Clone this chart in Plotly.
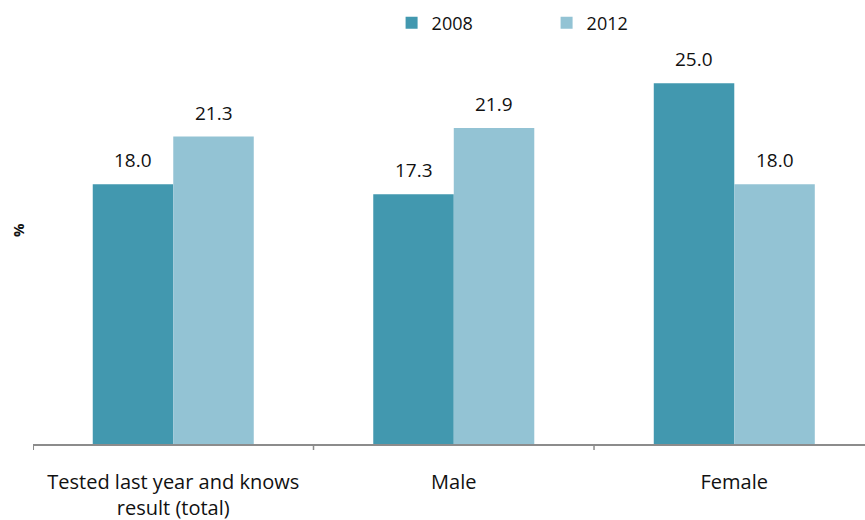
import plotly.graph_objects as go

# Share of people tested in the last year who know their result
categories = ["Tested last year and knows<br>result (total)", "Male", "Female"]
years = ["2008", "2012"]
values_2008 = [18.0, 17.3, 25.0]
values_2012 = [21.3, 21.9, 18.0]
colors = {"2008": "#4298AF", "2012": "#93C3D4"}

FONT = "'Open Sans', 'Noto Sans', sans-serif"
BAR_W = 0.287

fig = go.Figure()
series = {"2008": values_2008, "2012": values_2012}
for yr in years:
    fig.add_trace(go.Bar(
        name=yr,
        x=list(range(len(categories))),
        y=series[yr],
        marker=dict(color=colors[yr], line=dict(width=0)),
        width=BAR_W,
        offsetgroup=yr,
    ))

# value labels above each bar
for k, yr in enumerate(years):
    offset = (k - 0.5) * BAR_W
    for i, v in enumerate(series[yr]):
        fig.add_annotation(
            x=i + offset, y=v, xref="x", yref="y",
            text=f"{v:.1f}", showarrow=False,
            yanchor="bottom", yshift=9,
            font=dict(family=FONT, size=19, color="#111111"),
        )

fig.add_annotation(
    xref="paper", yref="paper", x=-0.018, xanchor="center", y=0.494,
    text="<b>%</b>", showarrow=False, textangle=-90,
    font=dict(family=FONT, size=15, color="#111111"),
)

fig.update_layout(
    width=865, height=520,
    margin=dict(l=33, r=0, t=11, b=76),
    paper_bgcolor="white", plot_bgcolor="white",
    barmode="group", bargap=0.426, bargroupgap=0,
    showlegend=True,
    legend=dict(
        orientation="h", x=0.431, xanchor="left", y=1.015, yanchor="top",
        font=dict(family=FONT, size=18, color="#111111"),
        entrywidth=110, itemclick=False, bgcolor="rgba(0,0,0,0)",
    ),
    xaxis=dict(
        range=[-0.5, 2.466],
        tickmode="array",
        tickvals=list(range(len(categories))),
        ticktext=categories,
        ticks="", showgrid=False, zeroline=False,
        showline=True, linecolor="#8c8c8c", linewidth=1.5,
        tickfont=dict(family=FONT, size=20, color="#111111"),
        ticklabelstandoff=19,
    ),
    yaxis=dict(
        range=[0, 30], showticklabels=False, showgrid=False,
        zeroline=False, showline=False, ticks="",
    ),
)

# boundary tick marks along the category axis
for b in [-0.499, 0.5, 1.5]:
    fig.add_shape(
        type="line", xref="x", yref="paper",
        x0=b, x1=b, y0=0, y1=-6, line=dict(color="#8c8c8c", width=1.5),
        ysizemode="pixel", yanchor=0,
    )

fig.write_html("out.html")
